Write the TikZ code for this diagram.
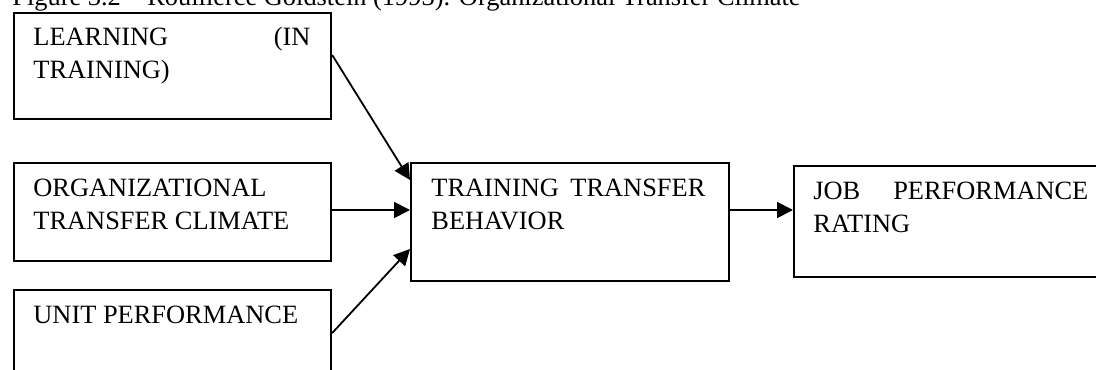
\documentclass[tikz,border=0pt]{standalone}
\usepackage{fontspec}
\setmainfont{Liberation Serif}
\usetikzlibrary{arrows.meta,calc}
\begin{document}
\begin{tikzpicture}[x=0.5pt,y=-0.5pt,
  box/.style={draw, line width=1.1pt, rectangle, anchor=north west, inner sep=0pt, minimum width=158.5pt},
  txt/.style={anchor=base west, inner sep=0pt, font=\fontsize{13.2pt}{16.5pt}\selectfont},
  arr/.style={line width=0.9pt, -{Triangle[length=8pt,width=8pt]}}]
\useasboundingbox (0,0) rectangle (1096,369);
\clip (0,0) rectangle (1096,369);
% caption (only its lower part shows)
\node[txt] (cap) at (12,5.5) {Figure 3.2 -- Rouillerce Goldstein (1993). Organizational Transfer Climate};
% boxes
\node[box, minimum height=53pt] (b1) at (13,12) {};
\node[box, minimum height=49pt] (b2) at (13,162) {};
\node[box, minimum height=62pt] (b3) at (13,289) {};
\node[box, minimum height=59pt, minimum width=159pt] (c) at (410,162) {};
\node[box, minimum height=55.5pt] (r) at (793,165) {};
% texts
\node[txt] (t1) at ([shift={(20,34)}]b1.north west) {\parbox[t]{138.5pt}{LEARNING\hfill(IN\\TRAINING)}};
\node[txt] (t2) at ([shift={(20,34)}]b2.north west) {\parbox[t]{138.5pt}{ORGANIZATIONAL\\TRANSFER CLIMATE}};
\node[txt] (t3) at ([shift={(20,34)}]b3.north west) {UNIT PERFORMANCE};
\node[txt] (tc) at ([shift={(21,34)}]c.north west) {\parbox[t]{137pt}{TRAINING\hfill TRANSFER\\BEHAVIOR}};
\node[txt] (tr) at ([shift={(20,34)}]r.north west) {\parbox[t]{137.5pt}{JOB\hfill PERFORMANCE\\RATING}};
% connectors
\draw[arr] ([shift={(0,43)}]b1.north east) -- ([shift={(0,18)}]c.north west);
\draw[arr] ([shift={(0,48)}]b2.north east) -- ([shift={(0,48)}]c.north west);
\draw[arr] ([shift={(0,44)}]b3.north east) -- ([shift={(0,87)}]c.north west);
\draw[arr] ([shift={(0,48)}]c.north east) -- ([shift={(0,45)}]r.north west);
\end{tikzpicture}
\end{document}
